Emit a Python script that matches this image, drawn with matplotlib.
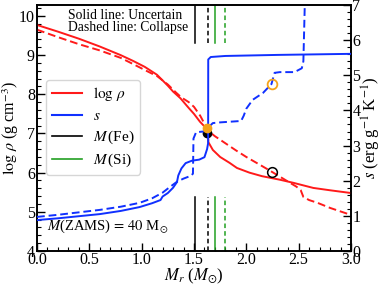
import matplotlib
matplotlib.use("Agg")
import matplotlib.pyplot as plt
from matplotlib.lines import Line2D
from matplotlib.ticker import MultipleLocator

plt.rcParams['font.family'] = ['Liberation Serif', 'DejaVu Serif']
plt.rcParams['mathtext.fontset'] = 'stix'

# log rho, solid (uncertain)
rho_s_m = [0.0, 0.2, 0.4, 0.6, 0.8, 0.92, 1.03, 1.146, 1.25, 1.3, 1.37, 1.45, 1.5, 1.557, 1.6, 1.635,
           1.637, 1.68, 1.75, 1.84, 1.91, 2.03, 2.15, 2.32, 2.45, 2.64, 2.8, 3.0]
rho_s_v = [9.77, 9.6, 9.42, 9.22, 9.0, 8.85, 8.7, 8.5, 8.22, 8.07, 7.9, 7.65, 7.5, 7.3, 7.18, 7.06,
           6.78, 6.58, 6.40, 6.25, 6.12, 6.0, 5.91, 5.82, 5.74, 5.61, 5.55, 5.48]
# log rho, dashed (collapse)
rho_d_m = [0.0, 0.2, 0.4, 0.6, 0.8, 0.92, 1.03, 1.15, 1.25, 1.33, 1.38, 1.45, 1.5, 1.56, 1.6, 1.63,
           1.7, 1.8, 1.9, 2.0, 2.13, 2.245, 2.35, 2.48, 2.52, 2.545, 2.6, 2.68, 2.8, 3.0]
rho_d_v = [9.65, 9.46, 9.28, 9.12, 8.93, 8.77, 8.62, 8.46, 8.25, 8.04, 7.92, 7.8, 7.68, 7.45, 7.25, 7.08,
           6.93, 6.75, 6.57, 6.4, 6.2, 6.02, 5.85, 5.64, 5.55, 5.38, 5.30, 5.23, 5.1, 4.92]
# entropy, solid
s_s_m = [0.0, 0.2, 0.4, 0.6, 0.8, 0.98, 1.1, 1.18, 1.2, 1.25, 1.3, 1.337, 1.35, 1.38, 1.42, 1.48,
         1.55, 1.6, 1.625, 1.635, 1.636, 1.66, 1.8, 2.3, 3.0]
s_s_v = [0.88, 0.93, 0.99, 1.05, 1.14, 1.25, 1.36, 1.45, 1.55, 1.65, 1.8, 1.96, 2.15, 2.35, 2.5, 2.57,
         2.6, 2.67, 2.9, 3.07, 5.45, 5.52, 5.55, 5.58, 5.61]
# entropy, dashed
s_d_m = [0.0, 0.2, 0.4, 0.6, 0.8, 0.98, 1.1, 1.2, 1.26, 1.337, 1.4, 1.47, 1.49, 1.495, 1.52, 1.59,
         1.63, 1.68, 1.75, 1.95, 1.975, 2.0, 2.06, 2.16, 2.24, 2.27, 2.32, 2.46, 2.53, 2.545, 2.56]
s_d_v = [0.97, 1.03, 1.1, 1.17, 1.26, 1.37, 1.5, 1.66, 1.8, 1.97, 2.06, 2.14, 2.2, 3.2, 3.38, 3.4,
         3.5, 3.64, 3.66, 3.7, 3.85, 4.05, 4.3, 4.5, 4.75, 5.07, 5.09, 5.09, 5.2, 5.4, 7.2]

m_fe = [1.51, 1.635]
m_si = [1.70, 1.795]

dot_m = 1.628
dot_rho = 7.0
dot_s = 3.5
circ_m = 2.243
circ_rho = 6.02
circ_s = 4.75

x_ticks = [0.0, 0.5, 1.0, 1.5, 2.0, 2.5, 3.0]
x_ticklabels = ['0.0', '0.5', '1.0', '1.5', '2.0', '2.5', '3.0']

RED = '#ff1a1a'
BLUE = '#1030ff'
GREEN = '#22a022'
ORANGE = '#f5a31a'

fig = plt.figure(figsize=(3.82, 2.86), dpi=100)
ax = fig.add_axes([37/382, 1-251/286, (351-37)/382, (251-5)/286])
ax2 = ax.twinx()

ax.plot(rho_s_m, rho_s_v, color=RED, lw=1.4, zorder=3)
ax.plot(rho_d_m, rho_d_v, color=RED, lw=1.4, ls=(0, (4, 2)), zorder=3)
ax2.plot(s_s_m, s_s_v, color=BLUE, lw=1.4, zorder=3)
ax2.plot(s_d_m, s_d_v, color=BLUE, lw=1.4, ls=(0, (4, 2)), zorder=3)

for i, mv in enumerate(m_fe):
    ls = '-' if i == 0 else (0, (3, 2))
    ax.axvline(mv, ymin=0, ymax=0.22, color='k', lw=1.1, ls=ls)
    ax.axvline(mv, ymin=0.845, ymax=1.0, color='k', lw=1.1, ls=ls)
for i, mv in enumerate(m_si):
    ls = '-' if i == 0 else (0, (3, 2))
    ax.axvline(mv, ymin=0, ymax=0.22, color=GREEN, lw=1.1, ls=ls)
    ax.axvline(mv, ymin=0.845, ymax=1.0, color=GREEN, lw=1.1, ls=ls)

ax2.plot([dot_m], [dot_s], 'o', color=ORANGE, ms=6, zorder=5)
ax.plot([dot_m], [dot_rho], 'o', color='k', ms=6, zorder=6)
ax2.plot([circ_m], [circ_s], 'o', mfc='none', mec=ORANGE, mew=1.3, ms=7, zorder=5)
ax.plot([circ_m], [circ_rho], 'o', mfc='none', mec='k', mew=1.1, ms=7, zorder=5)

ax.set_xlim(0, 3.0)
ax.set_ylim(4, 10.28)
ax2.set_ylim(0, 7)

ax.set_xticks(x_ticks)
ax.set_xticklabels(x_ticklabels)
ax.xaxis.set_minor_locator(MultipleLocator(0.1))
ax.yaxis.set_major_locator(MultipleLocator(1))
ax.yaxis.set_minor_locator(MultipleLocator(0.2))
ax2.yaxis.set_major_locator(MultipleLocator(1))
ax2.yaxis.set_minor_locator(MultipleLocator(0.2))

for a in (ax, ax2):
    a.tick_params(axis='both', which='both', direction='in', labelsize=11.5)
    a.tick_params(which='major', length=6, width=1)
    a.tick_params(which='minor', length=3, width=0.8)
    for sp in a.spines.values():
        sp.set_linewidth(1.2)
ax.tick_params(axis='x', pad=1)
ax.tick_params(axis='y', pad=1.5)
ax2.tick_params(axis='y', pad=1)

ax.set_xlabel(r'$M_r$ ($M_{\odot}$)', fontsize=12, labelpad=-1)
ax.set_ylabel(r'$\log\,\rho$ (g cm$^{-3}$)', fontsize=11.5, labelpad=-1.5)
ax2.set_ylabel(r'$s$ (erg g$^{-1}$ K$^{-1}$)', fontsize=12, labelpad=-0.5)

ax.text(0.10, 0.985, 'Solid line: Uncertain\nDashed line: Collapse', transform=ax.transAxes,
        ha='left', va='top', fontsize=9.8, linespacing=0.95)
ax.text(0.033, 0.065, r'$M$(ZAMS)$\,=\,40$ M$_{\odot}$', transform=ax.transAxes,
        ha='left', va='bottom', fontsize=10.5)

handles = [Line2D([], [], color=RED, lw=1.5), Line2D([], [], color=BLUE, lw=1.5),
           Line2D([], [], color='k', lw=1.2), Line2D([], [], color=GREEN, lw=1.2)]
labels = [r'$\log\,\rho$', r'$s$', r'$M\,$(Fe)', r'$M\,$(Si)']
leg = ax2.legend(handles, labels, loc='upper left', bbox_to_anchor=(0.03, 0.695), fontsize=11,
                 frameon=True, handlelength=2.0, labelspacing=0.38, borderpad=0.35,
                 handletextpad=0.7, borderaxespad=0)
leg.get_frame().set_edgecolor('#cccccc')

fig.savefig('out.png', dpi=100)
